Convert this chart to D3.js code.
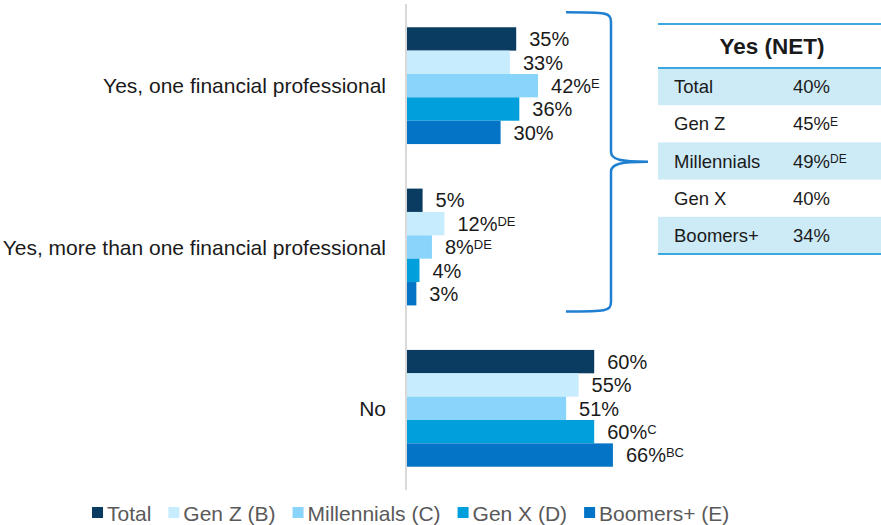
<!DOCTYPE html>
<html>
<head>
<meta charset="utf-8">
<script src="https://cdn.jsdelivr.net/npm/d3@7"></script>
<style>
  body { margin: 0; background: #fff; }
  svg { display: block; font-family: "Liberation Sans", Arial, sans-serif; }
</style>
</head>
<body>
<div id="chart"></div>
<script>
const width = 881, height = 525

// chart data
const categories = ["Yes, one financial professional", "Yes, more than one financial professional", "No"]
const seriesNames = ["Total", "Gen Z (B)", "Millennials (C)", "Gen X (D)", "Boomers+ (E)"]
const totalVals = [35, 5, 60]
const genZVals = [33, 12, 55]
const millVals = [42, 8, 51]
const genXVals = [36, 4, 60]
const boomVals = [30, 3, 66]
const totalSig = ["", "", ""]
const genZSig = ["", "DE", ""]
const millSig = ["E", "DE", ""]
const genXSig = ["", "", "C"]
const boomSig = ["", "", "BC"]

// Yes (NET) table
const netGroups = ["Total", "Gen Z", "Millennials", "Gen X", "Boomers+"]
const netValues = [40, 45, 49, 40, 34]
const netSig = ["", "E", "DE", "", ""]

const colors = ["#0a3b61", "#c6ecfd", "#89d4fb", "#019fdc", "#0474c7"]
const allVals = [totalVals, genZVals, millVals, genXVals, boomVals]
const allSig = [totalSig, genZSig, millSig, genXSig, boomSig]

const rows = []
categories.forEach((c, ci) => {
  seriesNames.forEach((s, si) => {
    rows.push({ cat: c, series: s, value: allVals[si][ci], sig: allSig[si][ci] })
  })
})

const svg = d3.select('#chart').append('svg')
  .attr('width', width)
  .attr('height', height)

const x = d3.scaleLinear().domain([0, 100]).range([407, 719])

const y0 = d3.scaleBand()
  .domain(categories)
  .range([5, 489])
  .paddingInner(0.276)
  .paddingOuter(0.138)

const y1 = d3.scaleBand()
  .domain(seriesNames)
  .range([0, y0.bandwidth()])

const color = d3.scaleOrdinal().domain(seriesNames).range(colors)

// vertical axis line
svg.append('line')
  .attr('x1', 406).attr('x2', 406)
  .attr('y1', 4).attr('y2', 490)
  .attr('stroke', '#d9d9d9')
  .attr('stroke-width', 2)

// bars
svg.selectAll('rect.bar')
  .data(rows)
  .join('rect')
  .attr('class', 'bar')
  .attr('x', x(0))
  .attr('y', d => y0(d.cat) + y1(d.series))
  .attr('width', d => x(d.value) - x(0))
  .attr('height', y1.bandwidth())
  .attr('fill', d => color(d.series))

// value labels
const labels = svg.selectAll('text.val')
  .data(rows)
  .join('text')
  .attr('class', 'val')
  .attr('x', d => x(d.value) + 13)
  .attr('y', d => y0(d.cat) + y1(d.series) + y1.bandwidth() / 2)
  .attr('dy', '0.36em')
  .attr('font-size', 20)
  .attr('fill', '#1a1a1a')

labels.append('tspan').text(d => d.value + '%')
labels.filter(d => d.sig)
  .append('tspan')
  .attr('font-size', 13)
  .attr('dy', -5)
  .text(d => d.sig)

// category labels
svg.selectAll('text.cat')
  .data(categories)
  .join('text')
  .attr('class', 'cat')
  .attr('x', 386)
  .attr('y', d => y0(d) + y0.bandwidth() / 2)
  .attr('dy', '0.36em')
  .attr('text-anchor', 'end')
  .attr('font-size', 21)
  .attr('fill', '#1a1a1a')
  .text(d => d)

// brace around the two "Yes" groups
const bTop = y0(categories[0]) - 15
const bBot = y0(categories[1]) + y0.bandwidth() + 6
const bMid = (bTop + bBot) / 2
const bx = 611, bl = 566, tip = 648
svg.append('path')
  .attr('d', `M${bl},${bTop} C${bx - 5},${bTop} ${bx},${bTop} ${bx},${bTop + 10}
    L${bx},${bMid - 10} C${bx},${bMid - 2} ${bx + 10},${bMid} ${tip},${bMid}
    C${bx + 10},${bMid} ${bx},${bMid + 2} ${bx},${bMid + 10}
    L${bx},${bBot - 10} C${bx},${bBot} ${bx - 5},${bBot} ${bl},${bBot}`)
  .attr('fill', 'none')
  .attr('stroke', '#1f7fd1')
  .attr('stroke-width', 2.5)

// Yes (NET) table
const tx0 = 658, tx1 = 881
const ty = d3.scaleBand().domain(netGroups).range([68, 254])

svg.selectAll('rect.shade')
  .data(netGroups.filter((d, i) => i % 2 === 0))
  .join('rect')
  .attr('class', 'shade')
  .attr('x', tx0)
  .attr('y', d => ty(d))
  .attr('width', tx1 - tx0)
  .attr('height', ty.bandwidth())
  .attr('fill', '#cdeaf7')

svg.selectAll('line.tline')
  .data([24, 68, 254])
  .join('line')
  .attr('class', 'tline')
  .attr('x1', tx0).attr('x2', tx1)
  .attr('y1', d => d).attr('y2', d => d)
  .attr('stroke', '#3da7e0')
  .attr('stroke-width', 2)

svg.append('text')
  .attr('x', 772)
  .attr('y', 46)
  .attr('dy', '0.36em')
  .attr('text-anchor', 'middle')
  .attr('font-size', 22.5)
  .attr('font-weight', 'bold')
  .attr('fill', '#1a1a1a')
  .text('Yes (NET)')

svg.selectAll('text.tname')
  .data(netGroups)
  .join('text')
  .attr('class', 'tname')
  .attr('x', 674)
  .attr('y', d => ty(d) + ty.bandwidth() / 2)
  .attr('dy', '0.36em')
  .attr('font-size', 18.5)
  .attr('fill', '#1a1a1a')
  .text(d => d)

const tvals = svg.selectAll('text.tval')
  .data(netGroups.map((g, i) => ({ g, v: netValues[i], s: netSig[i] })))
  .join('text')
  .attr('class', 'tval')
  .attr('x', 793)
  .attr('y', d => ty(d.g) + ty.bandwidth() / 2)
  .attr('dy', '0.36em')
  .attr('font-size', 18.5)
  .attr('fill', '#1a1a1a')
tvals.append('tspan').text(d => d.v + '%')
tvals.filter(d => d.s)
  .append('tspan')
  .attr('font-size', 12)
  .attr('dy', -4.5)
  .text(d => d.s)

// legend
const legend = svg.append('g')
let lx = 92
seriesNames.forEach((s, i) => {
  const g = legend.append('g').attr('transform', `translate(${lx},513)`)
  g.append('rect')
    .attr('x', 0).attr('y', -6)
    .attr('width', 11).attr('height', 11)
    .attr('fill', colors[i])
  const t = g.append('text')
    .attr('x', 15)
    .attr('dy', '0.36em')
    .attr('font-size', 21)
    .attr('fill', '#595959')
    .text(s)
  lx += 15 + t.node().getComputedTextLength() + 17
})
</script>
</body>
</html>
